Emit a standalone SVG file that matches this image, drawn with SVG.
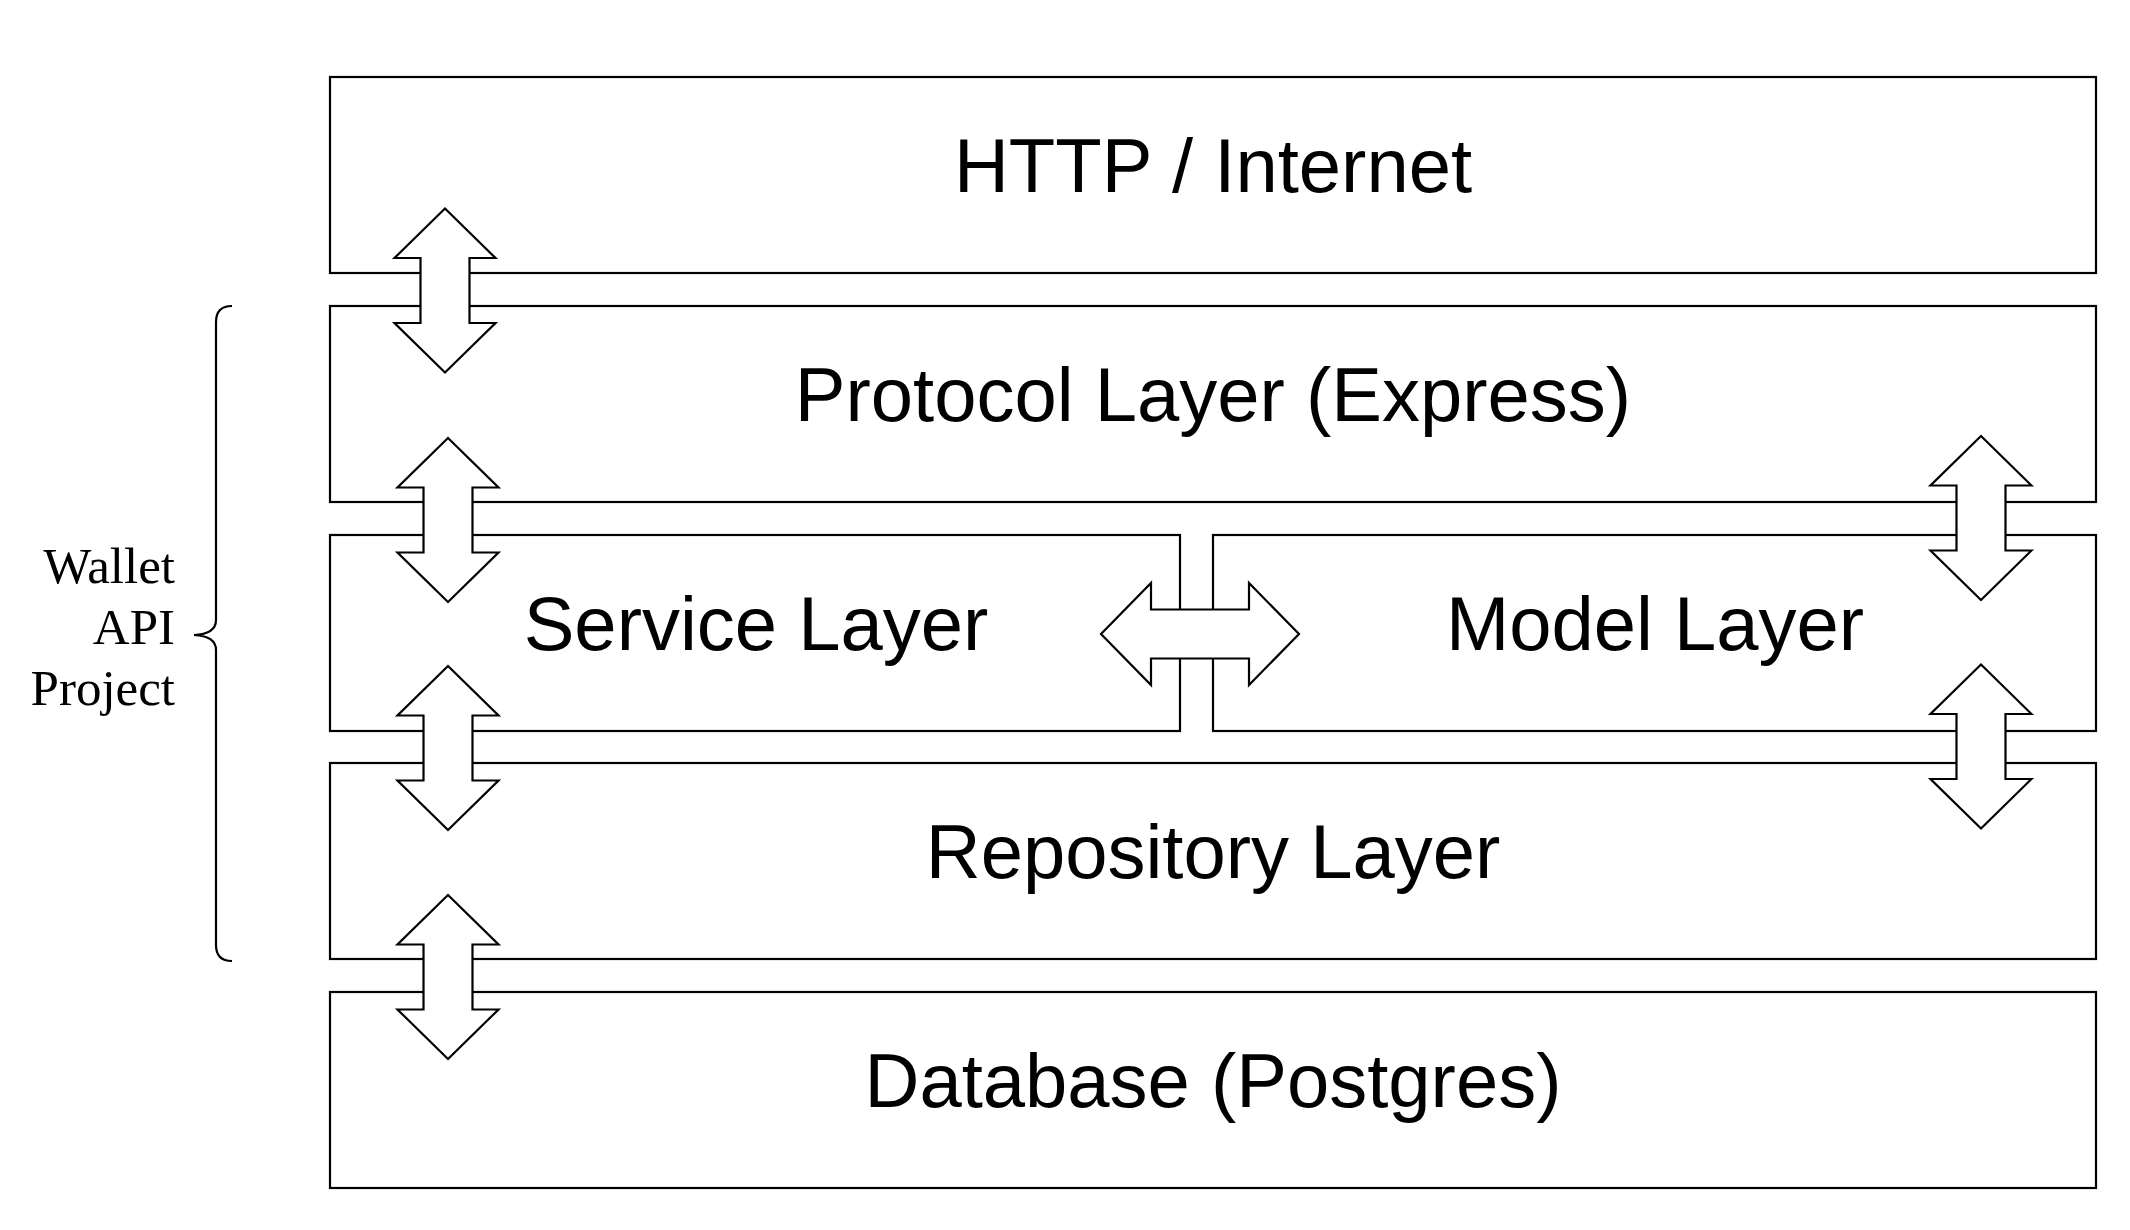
<svg xmlns="http://www.w3.org/2000/svg" xmlns:xlink="http://www.w3.org/1999/xlink" width="2130" height="1230" viewBox="0 0 2130 1230">
<style>
.box{fill:#fff;stroke:#000;stroke-width:2.2}
.lbl{font-family:"Liberation Sans",Arial,sans-serif;font-size:76px;fill:#000;text-anchor:middle}
.side{font-family:"Liberation Serif","Times New Roman",serif;font-size:51px;fill:#000;text-anchor:end}
.arr{fill:#fff;stroke:#000;stroke-width:2.2;stroke-linejoin:miter}
.brace{fill:none;stroke:#000;stroke-width:2.2}
</style>
<defs>
<polygon id="varrow" class="arr" points="0,-82 50.5,-32.5 24.5,-32.5 24.5,32.5 50.5,32.5 0,82 -50.5,32.5 -24.5,32.5 -24.5,-32.5 -50.5,-32.5"/>
<polygon id="harrow" class="arr" points="-99,0 -49,-51 -49,-24.5 49,-24.5 49,-51 99,0 49,51 49,24.5 -49,24.5 -49,51"/>
</defs>
<rect width="2130" height="1230" fill="#fff"/>
<g id="http">
<rect class="box" x="330" y="77" width="1766" height="196"/>
<text class="lbl" x="1213" y="192">HTTP / Internet</text>
</g>
<g id="protocol">
<rect class="box" x="330" y="306" width="1766" height="196"/>
<text class="lbl" x="1213" y="421">Protocol Layer (Express)</text>
</g>
<g id="service">
<rect class="box" x="330" y="535" width="850" height="196"/>
<text class="lbl" x="756" y="650">Service Layer</text>
</g>
<g id="model">
<rect class="box" x="1213" y="535" width="883" height="196"/>
<text class="lbl" x="1655" y="650">Model Layer</text>
</g>
<g id="repository">
<rect class="box" x="330" y="763" width="1766" height="196"/>
<text class="lbl" x="1213" y="878">Repository Layer</text>
</g>
<g id="database">
<rect class="box" x="330" y="992" width="1766" height="196"/>
<text class="lbl" x="1213" y="1107">Database (Postgres)</text>
</g>
<g id="project-label">
<path class="brace" d="M232,306 Q216,306 216,322 L216,620 Q216,634 194,635 Q216,636 216,650 L216,945 Q216,961 232,961"/>
<text class="side" x="175" y="583">Wallet</text>
<text class="side" x="175" y="644">API</text>
<text class="side" x="175" y="705">Project</text>
</g>
<g id="connectors">
<use xlink:href="#varrow" transform="translate(445,290.5)"/>
<use xlink:href="#varrow" transform="translate(448,520)"/>
<use xlink:href="#varrow" transform="translate(448,748)"/>
<use xlink:href="#varrow" transform="translate(448,977)"/>
<use xlink:href="#varrow" transform="translate(1981,518)"/>
<use xlink:href="#varrow" transform="translate(1981,746.5)"/>
<use xlink:href="#harrow" transform="translate(1200,634)"/>
</g>
</svg>
